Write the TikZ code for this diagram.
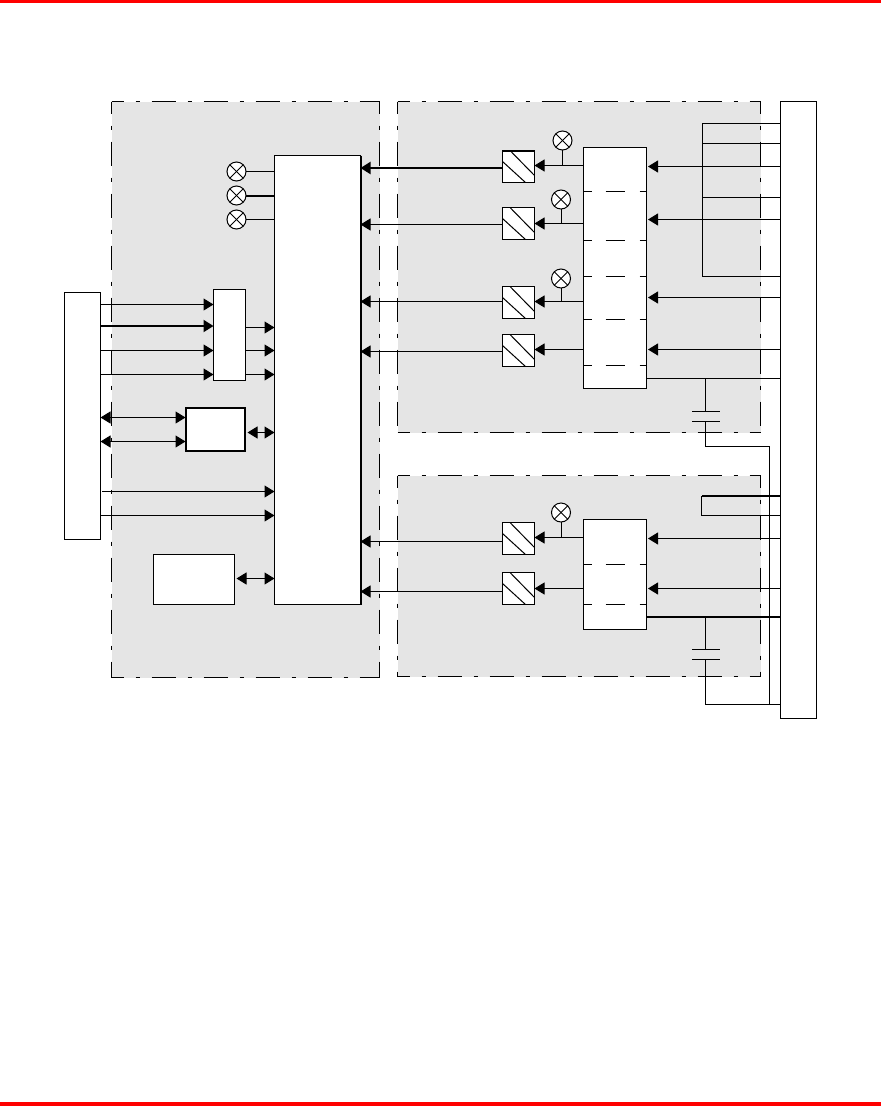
\documentclass[tikz,border=0pt]{standalone}
\usepackage{xcolor}
\usetikzlibrary{arrows.meta, calc}
\definecolor{panelgray}{HTML}{E5E5E5}
\definecolor{barred}{HTML}{FF0000}
\tikzset{
  box/.style={
    rectangle, draw=black, fill=white, line width=1pt,
    inner sep=0pt, outer sep=0pt
  },
  thickbox/.style={box, line width=2pt},
  filterbox/.style={box, minimum width=32pt, minimum height=32pt},
  panel/.style={
    rectangle, fill=panelgray, inner sep=0pt, outer sep=0pt
  },
  panelline/.style={draw=black, line width=1pt, dash pattern=on 24pt off 12pt on 4pt off 12pt, dash phase=12pt},
  lamp/.style={circle, draw=black, fill=white, line width=1pt, minimum size=19pt, inner sep=0pt, outer sep=0pt},
  wire/.style={line width=1pt, draw=black},
  thickwire/.style={line width=2pt, draw=black},
  arrow/.style={wire, -{Triangle[length=10pt,width=12pt]}},
  bigarrow/.style={thickwire, -{Triangle[length=10pt,width=12pt]}},
  twoway/.style={wire, {Triangle[length=10pt,width=12pt]}-{Triangle[length=10pt,width=12pt]}},
  sep/.style={wire, dash pattern=on 8pt off 14pt on 19pt off 15pt on 8pt},
}
\begin{document}
\begin{tikzpicture}[x=1pt,y=-1pt]
  \useasboundingbox (0,0) rectangle (881,1106);
  % page bars
  \fill[barred] (0,0) rectangle (881,3);
  \fill[barred] (0,1102) rectangle (881,1106);

  % panels
  \node[panel, minimum width=268pt, minimum height=576pt] (ctrl) at (245.5,389.5) {};
  \node[panel, minimum width=363pt, minimum height=331pt] (upper) at (579,267) {};
  \node[panel, minimum width=363pt, minimum height=201pt] (lower) at (579,576) {};
  \foreach \p in {ctrl,upper,lower} {
    \draw[panelline] (\p.north west) -- (\p.north east);
    \draw[panelline] (\p.south west) -- (\p.south east);
    \draw[panelline] (\p.north west) -- (\p.south west);
    \draw[panelline] (\p.north east) -- (\p.south east);
  }

  % blocks
  \node[box, minimum width=36pt, minimum height=247pt] (host) at (82.5,416) {};
  \node[box, minimum width=36pt, minimum height=617pt] (bus) at (798.5,410) {};
  \node[box, minimum width=86pt, minimum height=449pt] (main) at (317.5,380) {};
  \draw[thickwire] (main.north east) -- (main.south east);
  \node[box, minimum width=32pt, minimum height=91pt] (mux) at (229.5,335) {};
  \node[thickbox, minimum width=59pt, minimum height=43pt] (xcvr) at (215,429) {};
  \node[box, minimum width=81pt, minimum height=50pt] (mem) at (194,579.5) {};
  \node[box, minimum width=63pt, minimum height=241pt] (inupper) at (615,268) {};
  \node[box, minimum width=63pt, minimum height=110pt] (inlower) at (615,574.5) {};

  % separators in the input blocks
  \foreach \y in {191.5,240.5,276.5,319.5,365.5}
    \draw[sep] (inupper.west |- 0,\y) -- (inupper.east |- 0,\y);
  \foreach \y in {564.5,604.5}
    \draw[sep] (inlower.west |- 0,\y) -- (inlower.east |- 0,\y);

  % filters
  \node[filterbox] (fa) at (518.5,166.5) {};
  \node[filterbox] (fb) at (518.5,223.5) {};
  \node[filterbox] (fc) at (518.5,302.5) {};
  \node[filterbox] (fd) at (518.5,350.5) {};
  \node[filterbox] (fe) at (518.5,538.5) {};
  \node[filterbox] (ff) at (518.5,588.5) {};
  \foreach \f in {fa,fb,fc,fd,fe,ff} {
    \draw[wire] ($(\f.north west)+(7.5,0)$) -- ($(\f.north east)+(0,25)$);
    \draw[wire] ($(\f.north west)+(0,11)$) -- ($(\f.south west)+(23,0)$);
  }
  \draw[thickwire] (fa.north west) -- (fa.north east);

  % lamps
  \node[lamp] (la) at (236.5,171.5) {};
  \node[lamp] (lb) at (236.5,195.5) {};
  \node[lamp] (lc) at (236.5,219.5) {};
  \node[lamp] (ld) at (562.5,140.5) {};
  \node[lamp] (le) at (561,199.5) {};
  \node[lamp] (lf) at (561,278.5) {};
  \node[lamp] (lg) at (561,512.5) {};
  \foreach \l in {la,lb,lc,ld,le,lf,lg} {
    \draw[wire] (\l.north west) -- (\l.south east);
    \draw[wire] (\l.north east) -- (\l.south west);
  }
  \draw[wire] (la) ++(9.5,0) -- (main.west |- la);
  \draw[thickwire] (lb) ++(9.5,0) -- (main.west |- lb);
  \draw[wire] (lc) ++(9.5,0) -- (main.west |- lc);

  % host side
  \foreach \y in {304.5,350.5,374.5}
    \draw[arrow] (host.east |- 0,\y) -- (mux.west |- 0,\y);
  \draw[bigarrow] (host.east |- 0,326) -- (mux.west |- 0,326);
  \foreach \y in {327.5,350.5,374.5}
    \draw[arrow] (mux.east |- 0,\y) -- (main.west |- 0,\y);
  \foreach \y in {417.5,441.5}
    \draw[twoway] (host.east |- 0,\y) -- (xcvr.west |- 0,\y);
  \draw[twoway] ($(xcvr.east |- 0,432.5)+(3,0)$) -- (main.west |- 0,432.5);
  \draw[arrow] ($(host.east |- 0,491.5)+(1.5,0)$) -- (main.west |- 0,491.5);
  \draw[arrow] (host.east |- 0,515.5) -- (main.west |- 0,515.5);
  \draw[twoway] ($(mem.east |- 0,578.5)+(2,0)$) -- (main.west |- 0,578.5);

  % filters to main block
  \draw[bigarrow] (fa.west |- 0,168) -- (main.east |- 0,168);
  \foreach \y/\f in {224.5/fb,301.5/fc,351.5/fd,541.5/fe,591.5/ff}
    \draw[arrow] (\f.west |- 0,\y) -- (main.east |- 0,\y);

  % input blocks to filters
  \foreach \y/\f/\b in {165.5/fa/inupper,223.5/fb/inupper,301.5/fc/inupper,349.5/fd/inupper,537.5/fe/inlower,588.5/ff/inlower}
    \draw[arrow] (\b.west |- 0,\y) -- (\f.east |- 0,\y);
  \draw[wire] (ld) ++(0,9.5) -- (ld |- 0,165.5);
  \draw[wire] (le) ++(0,9.5) -- (le |- 0,223.5);
  \draw[wire] (lf) ++(0,9.5) -- (lf |- 0,301.5);
  \draw[wire] (lg) ++(0,9.5) -- (lg |- 0,537.5);

  % bus to input blocks
  \foreach \y in {166.5,219.5,297.5,349.5}
    \draw[arrow] (bus.west |- 0,\y) -- ($(inupper.east |- 0,\y)+(1.5,0)$);
  \foreach \y in {538.5,588.5}
    \draw[arrow] (bus.west |- 0,\y) -- ($(inlower.east |- 0,\y)+(1.5,0)$);

  % loops on the bus
  \coordinate (loopa) at (702.5,123.5);
  \coordinate (loopb) at (702.5,276.5);
  \draw[wire] (bus.west |- loopa) -- (loopa) -- (loopb) -- (bus.west |- loopb);
  \foreach \y in {143.5,197.5}
    \draw[wire] (bus.west |- 0,\y) -- (loopa |- 0,\y);
  \coordinate (loopc) at (701.5,496);
  \coordinate (loopd) at (701.5,515.5);
  \draw[thickwire] (bus.west |- loopc) -- (loopc);
  \draw[wire] (loopc) -- (loopd) -- (bus.west |- loopd);

  % capacitors
  \coordinate (capa) at (705.5,378.5);
  \coordinate (capb) at (705.5,617);
  \coordinate (return) at (769.5,446.5);
  \coordinate (returnb) at (769.5,704.5);
  \draw[wire] (inupper.east |- capa) -- (bus.west |- capa);
  \draw[thickwire] (inlower.east |- capb) -- (bus.west |- capb);
  \draw[wire] (capa) -- +(0,33);
  \draw[wire] ($(capa)+(-13.5,33)$) -- +(27.5,0);
  \draw[wire] ($(capa)+(-13.5,43)$) -- +(27.5,0);
  \draw[wire] ($(capa)+(0,43)$) |- (return) -- (returnb);
  \draw[wire] (capb) -- +(0,32.5);
  \draw[wire] ($(capb)+(-13.5,32.5)$) -- +(27.5,0);
  \draw[wire] ($(capb)+(-13.5,42.5)$) -- +(27.5,0);
  \draw[wire] ($(capb)+(0,42.5)$) |- (bus.west |- returnb);
\end{tikzpicture}
\end{document}
